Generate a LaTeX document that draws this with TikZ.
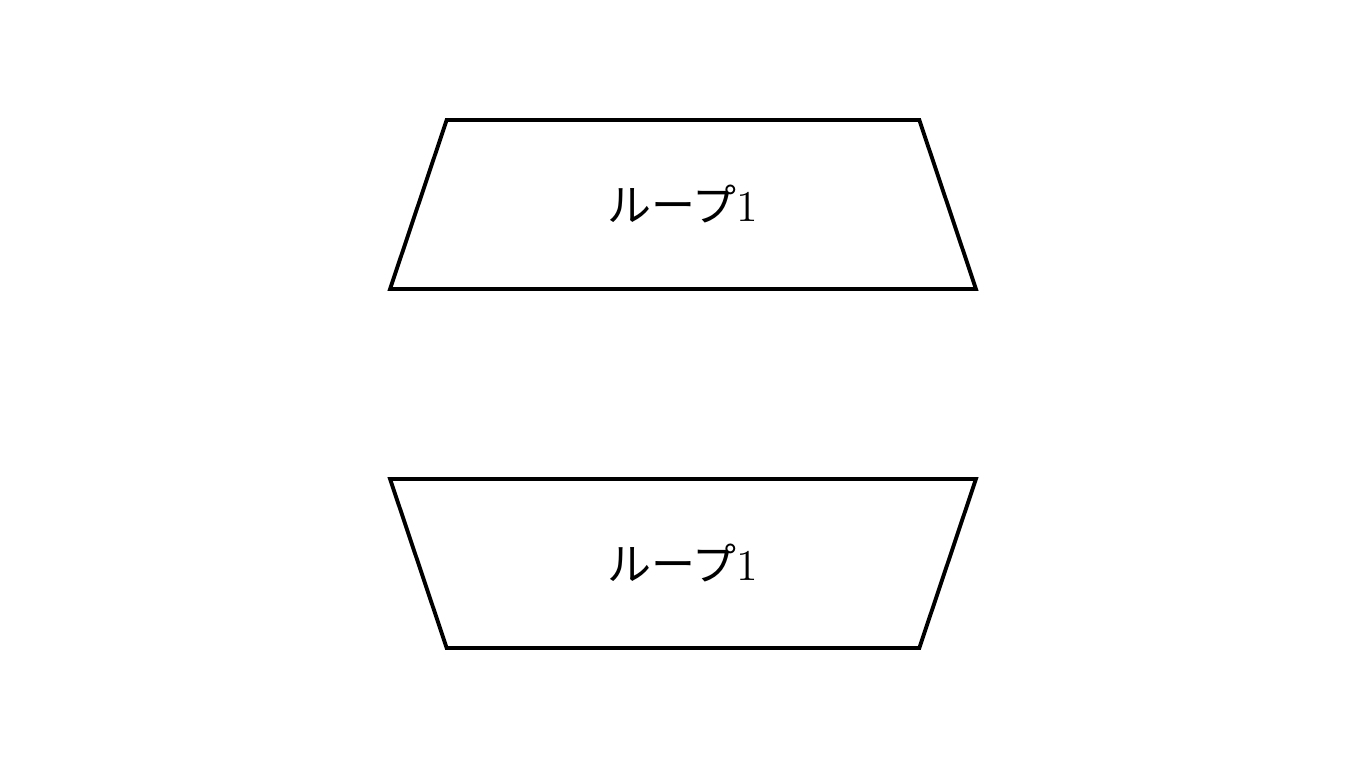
\documentclass[tikz,border=0pt]{standalone}
\usepackage{fontspec}
\newfontfamily\cjk{Noto Sans CJK JP}
\usetikzlibrary{shapes.geometric}

\begin{document}
\begin{tikzpicture}[
    x=0.01cm, y=-0.01cm,
    loopbox/.style={draw, line width=1.1pt, shape=trapezium,
                    trapezium stretches=true,
                    trapezium left angle=64.6, trapezium right angle=64.6,
                    minimum width=5.86cm, minimum height=1.69cm,
                    inner sep=0pt, outer sep=0pt,
                    font=\fontsize{12.5}{14}\selectfont},
  ]
  \useasboundingbox (0,0) rectangle (1366,768);

  % Loop start
  \node[loopbox] (loopstart) at (683,204.5) {{\cjk ループ}1};

  % Loop end
  \node[loopbox, shape border rotate=180] (loopend) at (683,563.5) {{\cjk ループ}1};

\end{tikzpicture}
\end{document}
